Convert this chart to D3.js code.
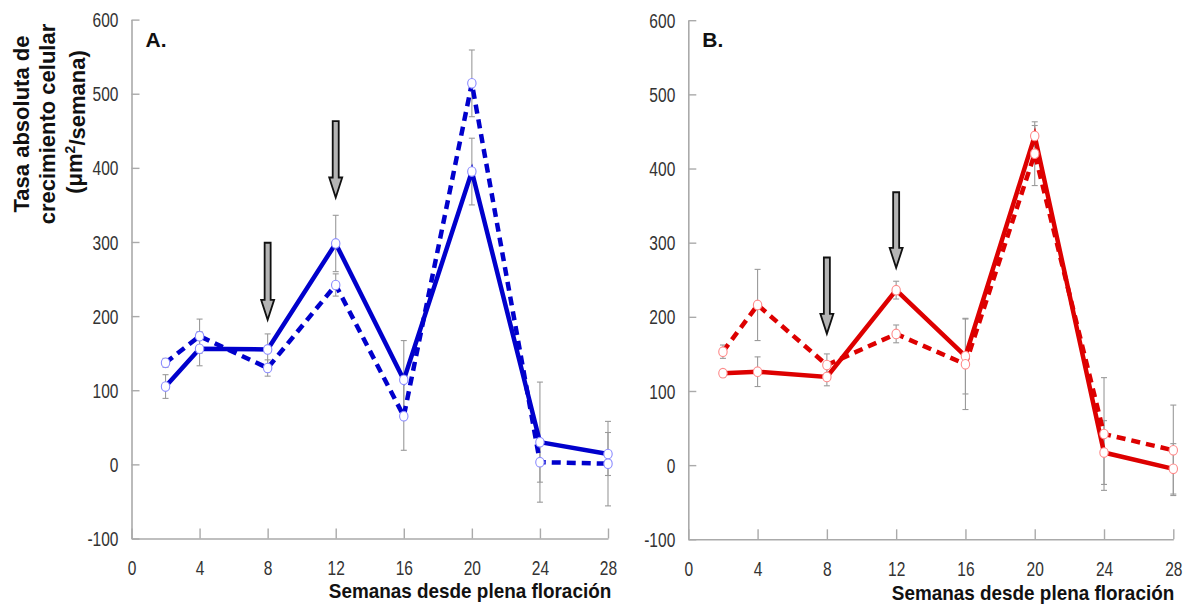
<!DOCTYPE html>
<html>
<head>
<meta charset="utf-8">
<script src="https://cdn.jsdelivr.net/npm/d3@7"></script>
<style>
  html, body { margin: 0; padding: 0; background: #fff; }
  svg { display: block; font-family: "Liberation Sans", Arial, sans-serif; }
</style>
</head>
<body>
<svg id="chart" width="1188" height="612"></svg>
<script>
// Weeks after full bloom
const weeks = [2, 4, 8, 12, 16, 20, 24, 28];
const xTicks = [0, 4, 8, 12, 16, 20, 24, 28];
const yTicks = [-100, 0, 100, 200, 300, 400, 500, 600];

// Panel A (blue)
const aSolid     = [105, 156, 155, 298, 114, 395, 30, 14];
const aSolidErr  = [16, 23, 21, 38, 53, 45, 81, 29];
const aDashed    = [137, 173, 130, 242, 65, 514, 3, 1];
const aDashedErr = [6, 23, 11, 15, 46, 45, 27, 57];
const aArrows    = [{ week: 8, top: 299, tip: 195 }, { week: 12, top: 463, tip: 360 }];

// Panel B (red)
const bSolid     = [124, 126, 119, 236, 147, 444, 17, -5];
const bSolidErr  = [5, 20, 12, 12, 51, 14, 43, 34];
const bDashed    = [153, 216, 135, 177, 136, 420, 42, 20];
const bDashedErr = [9, 48, 15, 12, 61, 43, 76, 61];
const bArrows    = [{ week: 8, top: 280, tip: 177 }, { week: 12, top: 368, tip: 266 }];

const svg = d3.select("#chart");
const AXIS = "#aaaaaa";
const NARROW = 0.74;
const plain = d => String(d);   // hyphen-minus for negatives

function panel(opts) {
  const x = d3.scaleLinear().domain([0, 28]).range([opts.x0, opts.x1]);
  const y = d3.scaleLinear().domain([-100, 600]).range([opts.yBottom, opts.yTop]);
  const g = svg.append("g");

  // axes: ticks point inward
  const yAxis = g.append("g")
    .attr("transform", `translate(${opts.x0},0)`)
    .call(d3.axisLeft(y).tickValues(yTicks).tickFormat(plain)
      .tickSize(-8).tickSizeOuter(0).tickPadding(0));
  const xAxis = g.append("g")
    .attr("transform", `translate(0,${opts.yBottom})`)
    .call(d3.axisBottom(x).tickValues(xTicks).tickFormat(plain)
      .tickSize(-10).tickSizeOuter(0).tickPadding(0));
  [yAxis, xAxis].forEach(a => {
    a.select(".domain").attr("stroke", AXIS).attr("stroke-width", 1.6);
    a.selectAll(".tick line").attr("stroke", AXIS).attr("stroke-width", 1.4);
    a.selectAll(".tick text").attr("fill", "#333").attr("font-size", 21);
  });
  yAxis.selectAll(".tick text")
    .attr("x", 0).attr("dy", "0.34em")
    .attr("transform", `translate(-13,0) scale(${NARROW},1)`);
  xAxis.selectAll(".tick text")
    .attr("y", 0).attr("dy", "0.71em")
    .attr("transform", `translate(0,22) scale(${NARROW},1)`);

  // error bars
  const capW = 3;
  [[opts.solid, opts.solidErr], [opts.dashed, opts.dashedErr]].forEach(([vals, errs]) => {
    const eb = g.append("g").attr("stroke", "#9a9a9a").attr("stroke-width", 1.1).attr("fill", "none");
    weeks.forEach((w, i) => {
      const cx = x(w), hi = y(vals[i] + errs[i]), lo = y(vals[i] - errs[i]);
      eb.append("line").attr("x1", cx).attr("x2", cx).attr("y1", hi).attr("y2", lo);
      eb.append("line").attr("x1", cx - capW).attr("x2", cx + capW).attr("y1", hi).attr("y2", hi);
      eb.append("line").attr("x1", cx - capW).attr("x2", cx + capW).attr("y1", lo).attr("y2", lo);
    });
  });

  // series lines
  const line = d3.line().x((d, i) => x(weeks[i])).y(d => y(d));
  g.append("path").datum(opts.dashed)
    .attr("d", line).attr("fill", "none")
    .attr("stroke", opts.color).attr("stroke-width", 4.5)
    .attr("stroke-dasharray", "9,6");
  g.append("path").datum(opts.solid)
    .attr("d", line).attr("fill", "none")
    .attr("stroke", opts.color).attr("stroke-width", 4.5);

  // open markers
  [opts.solid, opts.dashed].forEach(vals => {
    g.append("g").selectAll("ellipse").data(vals).join("ellipse")
      .attr("cx", (d, i) => x(weeks[i])).attr("cy", d => y(d))
      .attr("rx", 4.2).attr("ry", 4.8)
      .attr("fill", "#fff").attr("stroke", opts.marker).attr("stroke-width", 1.1);
  });

  // down arrows
  const shaft = 3, head = 6.5, headLen = 20;
  g.append("g").selectAll("path").data(opts.arrows).join("path")
    .attr("d", a => {
      const cx = x(a.week), t = y(a.top), p = y(a.tip), h = p - headLen;
      return `M${cx - shaft},${t}L${cx + shaft},${t}L${cx + shaft},${h}L${cx + head},${h}` +
             `L${cx},${p}L${cx - head},${h}L${cx - shaft},${h}Z`;
    })
    .attr("fill", "#b4b4b4").attr("stroke", "#111").attr("stroke-width", 1.8)
    .attr("stroke-linejoin", "miter");

  // panel letter
  g.append("text").attr("x", opts.x0 + 14).attr("y", 47)
    .attr("font-size", 21).attr("font-weight", "bold").attr("fill", "#111")
    .text(opts.letter);

  // x title
  g.append("text")
    .attr("transform", `translate(${opts.titleX},${opts.titleY}) scale(0.9,1)`)
    .attr("text-anchor", "middle").attr("font-size", 21).attr("font-weight", "bold")
    .attr("fill", "#111")
    .text("Semanas desde plena floración");
}

panel({
  x0: 131.5, x1: 608, yTop: 19.6, yBottom: 538.5,
  solid: aSolid, solidErr: aSolidErr, dashed: aDashed, dashedErr: aDashedErr,
  arrows: aArrows, color: "#0000cc", marker: "#8c8cff", letter: "A.",
  titleX: 470, titleY: 598
});
panel({
  x0: 688.3, x1: 1173.3, yTop: 20.2, yBottom: 539.3,
  solid: bSolid, solidErr: bSolidErr, dashed: bDashed, dashedErr: bDashedErr,
  arrows: bArrows, color: "#dd0000", marker: "#ff8a8a", letter: "B.",
  titleX: 1033, titleY: 600
});

// y title (three lines)
const yTitle = svg.append("g").attr("font-size", 22).attr("font-weight", "bold").attr("fill", "#111");
[["Tasa absoluta de", 21], ["crecimiento celular", 47]].forEach(([t, cx]) => {
  yTitle.append("text")
    .attr("transform", `translate(${cx},124) rotate(-90)`)
    .attr("text-anchor", "middle").attr("dy", "0.35em").text(t);
});
const t3 = yTitle.append("text")
  .attr("transform", `translate(74,122) rotate(-90)`)
  .attr("text-anchor", "middle").attr("dy", "0.35em");
t3.append("tspan").text("(μm");
t3.append("tspan").attr("dy", "-0.45em").attr("font-size", 14).text("2");
t3.append("tspan").attr("dy", "0.45em").text("/semana)");
</script>
</body>
</html>
